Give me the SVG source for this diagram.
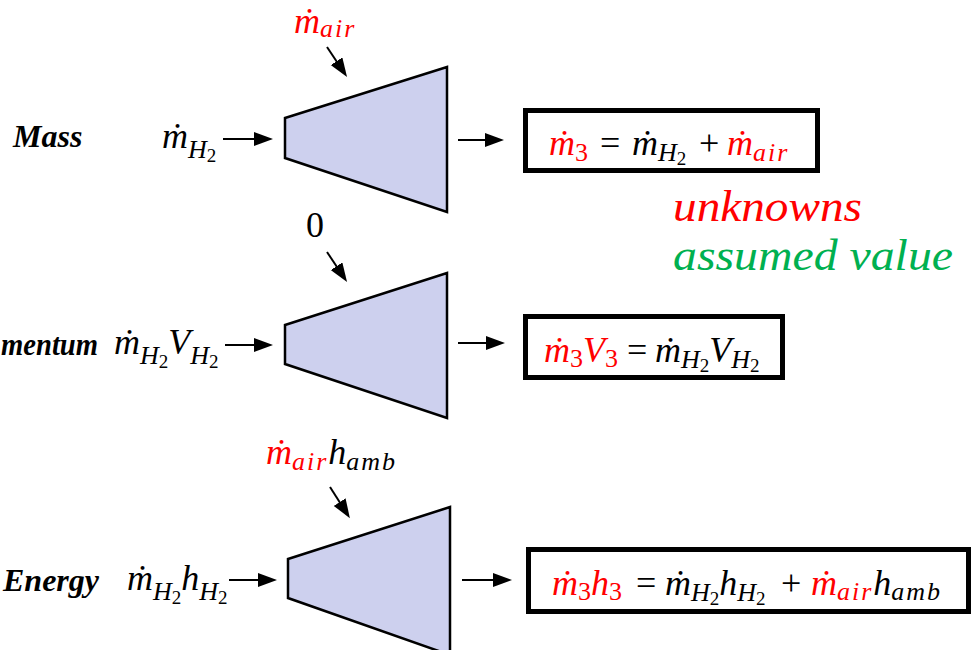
<svg xmlns="http://www.w3.org/2000/svg" width="971" height="650" viewBox="0 0 971 650">
<defs>
<style>
text{font-family:'Liberation Serif','Times New Roman',serif}
.m{font-style:italic;font-size:36px;fill:#000}
.up{font-style:normal}
.sb{font-size:26px}
.ss{font-size:19px;font-style:normal}
.r{fill:#ff0000}
.lbl{font-style:italic;font-weight:bold;font-size:32px;fill:#000}
.trap{fill:#cdd0ee;stroke:#000;stroke-width:2.5;stroke-linejoin:miter}
.box{fill:#fff;stroke:#000;stroke-width:5}
.ln{stroke:#000;stroke-width:2;fill:none}
.leg{font-style:italic;font-size:44px}
</style>
<marker id="ah" markerUnits="userSpaceOnUse" markerWidth="20" markerHeight="16" refX="9" refY="7" orient="auto">
<path d="M0,0 L19,7 L0,14 z" fill="#000"/>
</marker>
</defs>

<g id="labels">
<text class="lbl" x="13" y="147">Mass</text>
<text class="lbl" x="1" y="355" textLength="97" lengthAdjust="spacingAndGlyphs">mentum</text>
<text class="lbl" x="3" y="591">Energy</text>
</g>

<g id="mixer-mass">
<polygon class="trap" points="285,118 447,67 447,212 285,158"/>
</g>
<g id="mixer-momentum">
<polygon class="trap" points="285,325 447,273 447,418 285,364"/>
</g>
<g id="mixer-energy">
<polygon class="trap" points="288,559 450,507 450,655 288,598"/>
</g>

<g id="connectors">
<line class="ln" x1="223" y1="139" x2="263" y2="139" marker-end="url(#ah)"/>
<line class="ln" x1="327" y1="47" x2="341.5" y2="68.7" marker-end="url(#ah)"/>
<line class="ln" x1="458" y1="140" x2="494" y2="140" marker-end="url(#ah)"/>

<line class="ln" x1="225" y1="345" x2="263" y2="345" marker-end="url(#ah)"/>
<line class="ln" x1="327" y1="252" x2="341.5" y2="273.7" marker-end="url(#ah)"/>
<line class="ln" x1="458" y1="343" x2="495" y2="343" marker-end="url(#ah)"/>

<line class="ln" x1="229" y1="580" x2="267" y2="580" marker-end="url(#ah)"/>
<line class="ln" x1="330" y1="487" x2="344.5" y2="509.7" marker-end="url(#ah)"/>
<line class="ln" x1="462" y1="580" x2="502" y2="580" marker-end="url(#ah)"/>
</g>

<g id="in-mass">
<text class="m" x="162" y="148">ṁ<tspan class="sb" y="158">H</tspan><tspan class="ss" y="162">2</tspan></text>
</g>
<g id="top-mass">
<text class="m r" x="294" y="33">ṁ<tspan class="sb" y="37" letter-spacing="2">air</tspan></text>
</g>
<g id="eq-mass">
<rect class="box" x="525.5" y="110.5" width="292" height="60"/>
<text class="m"><tspan class="r" x="549" y="155">ṁ</tspan><tspan class="r up sb" y="161">3</tspan><tspan class="up" x="600" y="155">=</tspan><tspan x="632" y="155">ṁ</tspan><tspan class="sb" y="161">H</tspan><tspan class="ss" y="165">2</tspan><tspan class="up" x="699" y="155">+</tspan><tspan class="r" x="727" y="155">ṁ</tspan><tspan class="r sb" y="161" letter-spacing="2">air</tspan></text>
</g>

<g id="in-momentum">
<text class="m" x="114" y="354">ṁ<tspan class="sb" y="364">H</tspan><tspan class="ss" y="368">2</tspan><tspan y="354">V</tspan><tspan class="sb" y="364">H</tspan><tspan class="ss" y="368">2</tspan></text>
</g>
<g id="top-momentum">
<text class="m up" x="306" y="237">0</text>
</g>
<g id="eq-momentum">
<rect class="box" x="525.5" y="316.5" width="257" height="61"/>
<text class="m"><tspan class="r" x="544" y="362">ṁ</tspan><tspan class="r up sb" y="367">3</tspan><tspan class="r" y="362">V</tspan><tspan class="r up sb" y="367">3</tspan><tspan class="up" x="627" y="362">=</tspan><tspan x="655" y="362">ṁ</tspan><tspan class="sb" y="368">H</tspan><tspan class="ss" y="372">2</tspan><tspan y="362">V</tspan><tspan class="sb" y="368">H</tspan><tspan class="ss" y="372">2</tspan></text>
</g>

<g id="in-energy">
<text class="m" x="127" y="590">ṁ<tspan class="sb" y="600">H</tspan><tspan class="ss" y="604">2</tspan><tspan y="590">h</tspan><tspan class="sb" y="600">H</tspan><tspan class="ss" y="604">2</tspan></text>
</g>
<g id="top-energy">
<text class="m" x="266" y="464"><tspan class="r">ṁ</tspan><tspan class="r sb" y="470" letter-spacing="2">air</tspan><tspan y="464">h</tspan><tspan class="sb" y="470" letter-spacing="2">amb</tspan></text>
</g>
<g id="eq-energy">
<rect class="box" x="528.5" y="549.5" width="440" height="62"/>
<text class="m"><tspan class="r" x="552" y="595">ṁ</tspan><tspan class="r up sb" y="600">3</tspan><tspan class="r" y="595">h</tspan><tspan class="r up sb" y="600">3</tspan><tspan class="up" x="636" y="595">=</tspan><tspan x="665" y="595">ṁ</tspan><tspan class="sb" y="601">H</tspan><tspan class="ss" y="605">2</tspan><tspan y="595">h</tspan><tspan class="sb" y="601">H</tspan><tspan class="ss" y="605">2</tspan><tspan class="up" x="781" y="595">+</tspan><tspan class="r" x="811" y="595">ṁ</tspan><tspan class="r sb" y="600" letter-spacing="2">air</tspan><tspan y="595">h</tspan><tspan class="sb" y="600" letter-spacing="2">amb</tspan></text>
</g>

<g id="legend">
<text class="leg" x="673" y="221" fill="#ff0000" textLength="189" lengthAdjust="spacingAndGlyphs">unknowns</text>
<text class="leg" x="673" y="270" fill="#00b050" textLength="280" lengthAdjust="spacingAndGlyphs">assumed value</text>
</g>
</svg>
